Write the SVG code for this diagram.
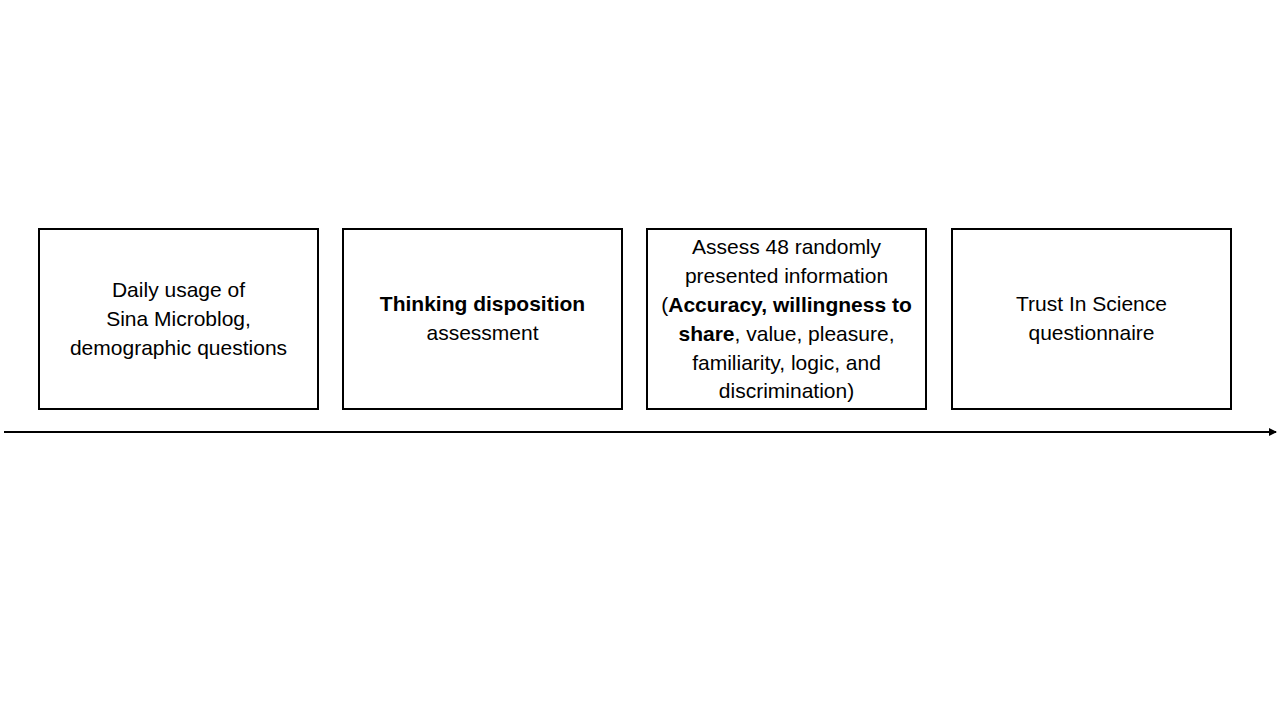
<svg xmlns="http://www.w3.org/2000/svg" width="1280" height="720" viewBox="0 0 1280 720">
<style>
.box{fill:#fff;stroke:#000;stroke-width:2}
text{font-family:"Liberation Sans",Arial,sans-serif;font-size:21px;fill:#000;text-anchor:middle}
.b{font-weight:bold}
</style>
<defs>
<marker id="ah" markerWidth="8" markerHeight="8" refX="7" refY="4" orient="auto" markerUnits="userSpaceOnUse">
<path d="M0,0 L8,4 L0,8 Z" fill="#000"/>
</marker>
</defs>
<rect width="1280" height="720" fill="#fff"/>
<g id="connectors">
<line x1="4" y1="432" x2="1276" y2="432" stroke="#000" stroke-width="2" marker-end="url(#ah)"/>
</g>
<g id="node1">
<rect class="box" x="39" y="229" width="279" height="180"/>
<text x="178.5" y="297">Daily usage of</text>
<text x="178.5" y="326">Sina Microblog,</text>
<text x="178.5" y="355">demographic questions</text>
</g>
<g id="node2">
<rect class="box" x="343" y="229" width="279" height="180"/>
<text x="482.5" y="311" class="b">Thinking disposition</text>
<text x="482.5" y="340">assessment</text>
</g>
<g id="node3">
<rect class="box" x="647" y="229" width="279" height="180"/>
<text x="786.5" y="254">Assess 48 randomly</text>
<text x="786.5" y="283">presented information</text>
<text x="786.5" y="312">(<tspan class="b">Accuracy, willingness to</tspan></text>
<text x="786.5" y="341"><tspan class="b">share</tspan>, value, pleasure,</text>
<text x="786.5" y="370">familiarity, logic, and</text>
<text x="786.5" y="398">discrimination)</text>
</g>
<g id="node4">
<rect class="box" x="952" y="229" width="279" height="180"/>
<text x="1091.5" y="311">Trust In Science</text>
<text x="1091.5" y="340">questionnaire</text>
</g>
</svg>
